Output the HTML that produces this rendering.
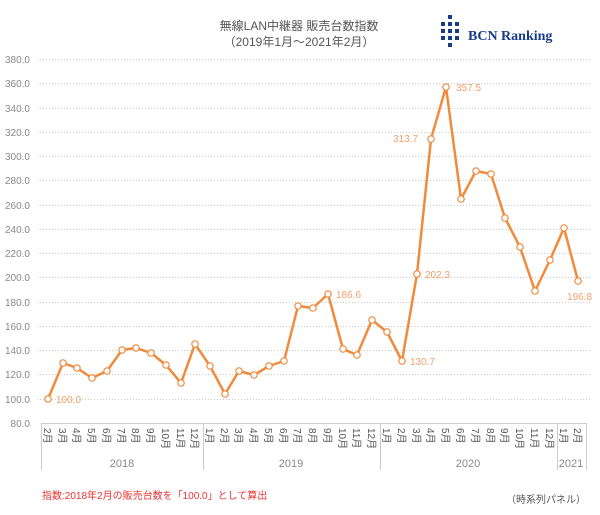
<!DOCTYPE html>
<html><head><meta charset="utf-8"><style>
html,body{margin:0;padding:0;background:#fff;}
svg{display:block;font-family:"Liberation Sans","Noto Sans CJK JP",sans-serif;}
</style></head><body>
<svg width="600" height="515" viewBox="0 0 600 515" xmlns="http://www.w3.org/2000/svg">
<text x="299" y="30" font-size="12" fill="#555" text-anchor="middle">無線LAN中継器 販売台数指数</text>
<text x="299" y="46" font-size="12" fill="#555" text-anchor="middle">（2019年1月～2021年2月）</text>
<g fill="#1a3a8a">
<rect x="448" y="15" width="4" height="4"/>
<rect x="441" y="22" width="4" height="4"/><rect x="448" y="22" width="4" height="4"/><rect x="455" y="22" width="4" height="4"/>
<rect x="441" y="29" width="4" height="4"/><rect x="448" y="29" width="4" height="4"/><rect x="455" y="29" width="4" height="4"/>
<rect x="441" y="36" width="4" height="4"/><rect x="448" y="36" width="4" height="4"/><rect x="455" y="36" width="4" height="4"/>
<rect x="448" y="43" width="4" height="4"/>
</g>
<text x="468" y="40" font-size="14" font-weight="bold" fill="#1a3a8a" font-family="Liberation Serif,serif">BCN Ranking</text>
<g stroke="#ccc" stroke-width="1" stroke-dasharray="1,2">
<line x1="37" x2="590" y1="59.5" y2="59.5"/><line x1="37" x2="590" y1="83.5" y2="83.5"/><line x1="37" x2="590" y1="108.5" y2="108.5"/><line x1="37" x2="590" y1="132.5" y2="132.5"/><line x1="37" x2="590" y1="156.5" y2="156.5"/><line x1="37" x2="590" y1="180.5" y2="180.5"/><line x1="37" x2="590" y1="205.5" y2="205.5"/><line x1="37" x2="590" y1="229.5" y2="229.5"/><line x1="37" x2="590" y1="253.5" y2="253.5"/><line x1="37" x2="590" y1="277.5" y2="277.5"/><line x1="37" x2="590" y1="302.5" y2="302.5"/><line x1="37" x2="590" y1="326.5" y2="326.5"/><line x1="37" x2="590" y1="350.5" y2="350.5"/><line x1="37" x2="590" y1="374.5" y2="374.5"/><line x1="37" x2="590" y1="399.5" y2="399.5"/>
</g>
<g font-size="10" fill="#888" text-anchor="end">
<text x="30" y="63">380.0</text><text x="30" y="87">360.0</text><text x="30" y="112">340.0</text><text x="30" y="136">320.0</text><text x="30" y="160">300.0</text><text x="30" y="184">280.0</text><text x="30" y="209">260.0</text><text x="30" y="233">240.0</text><text x="30" y="257">220.0</text><text x="30" y="281">200.0</text><text x="30" y="306">180.0</text><text x="30" y="330">160.0</text><text x="30" y="354">140.0</text><text x="30" y="378">120.0</text><text x="30" y="403">100.0</text><text x="30" y="427">80.0</text>
</g>
<g stroke="#ccc" fill="none">
<line x1="41.5" y1="423.5" x2="586" y2="423.5"/>
<line x1="41.5" y1="423" x2="41.5" y2="470"/>
<line x1="203.5" y1="423" x2="203.5" y2="470"/>
<line x1="380.5" y1="423" x2="380.5" y2="470"/>
<line x1="557.5" y1="423" x2="557.5" y2="470"/>
<line x1="586.5" y1="423" x2="586.5" y2="470"/>
</g>
<g font-size="10" fill="#555">
<text transform="translate(44,428) rotate(90)">2月</text><text transform="translate(59,428) rotate(90)">3月</text><text transform="translate(73,428) rotate(90)">4月</text><text transform="translate(88,428) rotate(90)">5月</text><text transform="translate(103,428) rotate(90)">6月</text><text transform="translate(118,428) rotate(90)">7月</text><text transform="translate(132,428) rotate(90)">8月</text><text transform="translate(147,428) rotate(90)">9月</text><text transform="translate(162,428) rotate(90)">10月</text><text transform="translate(177,428) rotate(90)">11月</text><text transform="translate(191,428) rotate(90)">12月</text>
<text transform="translate(206,428) rotate(90)">1月</text><text transform="translate(221,428) rotate(90)">2月</text><text transform="translate(235,428) rotate(90)">3月</text><text transform="translate(250,428) rotate(90)">4月</text><text transform="translate(265,428) rotate(90)">5月</text><text transform="translate(280,428) rotate(90)">6月</text><text transform="translate(294,428) rotate(90)">7月</text><text transform="translate(309,428) rotate(90)">8月</text><text transform="translate(324,428) rotate(90)">9月</text><text transform="translate(339,428) rotate(90)">10月</text><text transform="translate(353,428) rotate(90)">11月</text><text transform="translate(368,428) rotate(90)">12月</text>
<text transform="translate(383,428) rotate(90)">1月</text><text transform="translate(398,428) rotate(90)">2月</text><text transform="translate(413,428) rotate(90)">3月</text><text transform="translate(427,428) rotate(90)">4月</text><text transform="translate(442,428) rotate(90)">5月</text><text transform="translate(457,428) rotate(90)">6月</text><text transform="translate(472,428) rotate(90)">7月</text><text transform="translate(487,428) rotate(90)">8月</text><text transform="translate(501,428) rotate(90)">9月</text><text transform="translate(516,428) rotate(90)">10月</text><text transform="translate(531,428) rotate(90)">11月</text><text transform="translate(546,428) rotate(90)">12月</text>
<text transform="translate(560,428) rotate(90)">1月</text><text transform="translate(574,428) rotate(90)">2月</text>
</g>
<g font-size="11" fill="#888" text-anchor="middle">
<text x="122" y="467">2018</text><text x="291" y="467">2019</text><text x="468" y="467">2020</text><text x="571" y="467">2021</text>
</g>
<polyline fill="none" stroke="#f08a3c" stroke-width="2.5" stroke-linejoin="round" points="48,399 63,363 77,368 92,378 107,371 122,350 136,348 151,353 166,365 181,383 195,344 210,366 225,394 239,371 254,375 269,366 284,361 298,306 313,308 328,294 343,349 357,355 372,320 387,332 402,361 417,274 431,139 446,87 461,199 476,171 491,174 505,218 520,247 535,291 550,260 564,228 578,281"/>
<g fill="#fff" stroke="#f08a3c" stroke-width="1.2">
<circle cx="48" cy="399" r="3.2"/><circle cx="63" cy="363" r="3.2"/><circle cx="77" cy="368" r="3.2"/><circle cx="92" cy="378" r="3.2"/><circle cx="107" cy="371" r="3.2"/><circle cx="122" cy="350" r="3.2"/><circle cx="136" cy="348" r="3.2"/><circle cx="151" cy="353" r="3.2"/><circle cx="166" cy="365" r="3.2"/><circle cx="181" cy="383" r="3.2"/><circle cx="195" cy="344" r="3.2"/><circle cx="210" cy="366" r="3.2"/><circle cx="225" cy="394" r="3.2"/><circle cx="239" cy="371" r="3.2"/><circle cx="254" cy="375" r="3.2"/><circle cx="269" cy="366" r="3.2"/><circle cx="284" cy="361" r="3.2"/><circle cx="298" cy="306" r="3.2"/><circle cx="313" cy="308" r="3.2"/><circle cx="328" cy="294" r="3.2"/><circle cx="343" cy="349" r="3.2"/><circle cx="357" cy="355" r="3.2"/><circle cx="372" cy="320" r="3.2"/><circle cx="387" cy="332" r="3.2"/><circle cx="402" cy="361" r="3.2"/><circle cx="417" cy="274" r="3.2"/><circle cx="431" cy="139" r="3.2"/><circle cx="446" cy="87" r="3.2"/><circle cx="461" cy="199" r="3.2"/><circle cx="476" cy="171" r="3.2"/><circle cx="491" cy="174" r="3.2"/><circle cx="505" cy="218" r="3.2"/><circle cx="520" cy="247" r="3.2"/><circle cx="535" cy="291" r="3.2"/><circle cx="550" cy="260" r="3.2"/><circle cx="564" cy="228" r="3.2"/><circle cx="578" cy="281" r="3.2"/>
</g>
<g font-size="10" fill="#f4a06a">
<text x="56" y="403">100.0</text><text x="336" y="298">186.6</text><text x="410" y="365">130.7</text><text x="425" y="278">202.3</text><text x="393" y="142">313.7</text><text x="456" y="91">357.5</text><text x="567" y="300">196.8</text>
</g>
<text x="42" y="499" font-size="10" fill="#e33">指数:2018年2月の販売台数を「100.0」として算出</text>
<text x="586" y="503" font-size="10" fill="#555" text-anchor="end">（時系列パネル）</text>
</svg>
</body></html>
